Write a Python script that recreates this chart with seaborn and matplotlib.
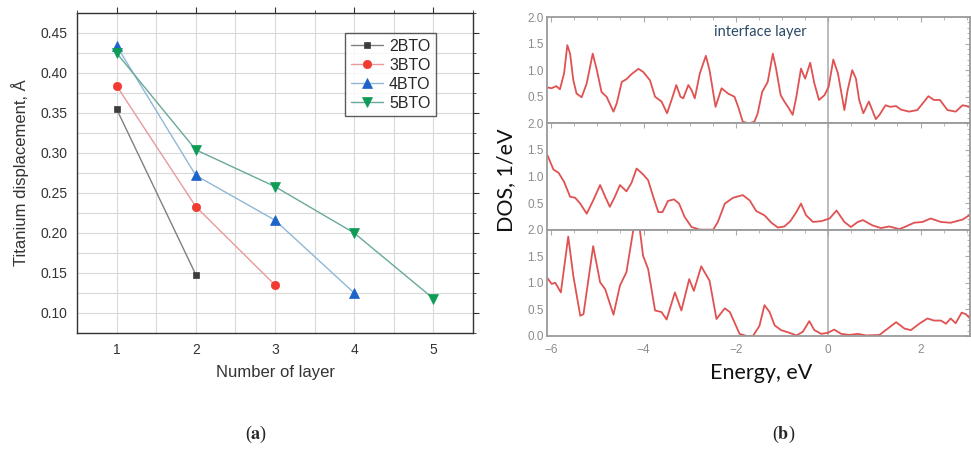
import matplotlib
matplotlib.use("Agg")
import matplotlib.pyplot as plt
from matplotlib.ticker import MultipleLocator, FixedLocator, FormatStrFormatter
import pandas as pd
import seaborn as sns

# ---------------- Panel (a) data ----------------
layers = [1, 2, 3, 4, 5]
series_names = ["2BTO", "3BTO", "4BTO", "5BTO"]
disp_2bto = [0.355, 0.148]
disp_3bto = [0.384, 0.233, 0.135]
disp_4bto = [0.434, 0.272, 0.216, 0.125]
disp_5bto = [0.425, 0.304, 0.258, 0.200, 0.118]
yticks_a = [0.10, 0.15, 0.20, 0.25, 0.30, 0.35, 0.40, 0.45]

# ---------------- Panel (b) data ----------------
energy_top = [-6.08, -5.99, -5.89, -5.81, -5.72, -5.65, -5.59, -5.52, -5.45, -5.34,
              -5.23, -5.10, -5.01, -4.91, -4.80, -4.65, -4.58, -4.47, -4.37, -4.26,
              -4.11, -4.01, -3.86, -3.75, -3.61, -3.49, -3.37, -3.29, -3.20, -3.14,
              -3.03, -2.96, -2.89, -2.78, -2.65, -2.57, -2.44, -2.31, -2.17, -2.03,
              -1.95, -1.85, -1.72, -1.60, -1.53, -1.43, -1.31, -1.20, -1.13, -1.03,
              -0.95, -0.85, -0.77, -0.69, -0.59, -0.50, -0.39, -0.30, -0.20, -0.08,
              0.01, 0.11, 0.21, 0.35, 0.42, 0.52, 0.60, 0.67, 0.76, 0.88,
              1.03, 1.11, 1.24, 1.34, 1.47, 1.57, 1.75, 1.93, 2.17, 2.29,
              2.42, 2.58, 2.76, 2.91, 3.07]
dos_top = [0.675, 0.66, 0.70, 0.64, 0.94, 1.47, 1.31, 0.81, 0.56, 0.49,
           0.75, 1.31, 1.00, 0.59, 0.50, 0.22, 0.375, 0.78, 0.83, 0.925,
           1.025, 0.97, 0.81, 0.50, 0.41, 0.19, 0.50, 0.72, 0.50, 0.47,
           0.72, 0.625, 0.47, 0.94, 1.27, 1.00, 0.31, 0.66, 0.56, 0.50,
           0.31, 0.03, 0.00, 0.03, 0.18, 0.59, 0.78, 1.31, 1.03, 0.53,
           0.41, 0.28, 0.16, 0.50, 1.03, 0.84, 1.14, 0.75, 0.44, 0.53,
           0.69, 1.20, 0.94, 0.25, 0.625, 1.00, 0.84, 0.44, 0.19, 0.41,
           0.08, 0.16, 0.34, 0.31, 0.325, 0.26, 0.22, 0.25, 0.51, 0.44,
           0.44, 0.25, 0.22, 0.34, 0.31]

energy_mid = [-6.08, -5.95, -5.84, -5.72, -5.59, -5.48, -5.37, -5.23, -5.09, -4.94,
              -4.83, -4.73, -4.62, -4.51, -4.37, -4.26, -4.15, -4.01, -3.90, -3.79,
              -3.68, -3.59, -3.47, -3.34, -3.23, -3.11, -2.96, -2.78, -2.49, -2.39,
              -2.24, -2.06, -1.85, -1.70, -1.56, -1.38, -1.23, -1.09, -0.95, -0.82,
              -0.69, -0.59, -0.48, -0.33, -0.15, 0.03, 0.18, 0.35, 0.49, 0.64,
              0.75, 0.96, 1.14, 1.32, 1.54, 1.68, 1.86, 2.04, 2.22, 2.44,
              2.65, 2.91, 3.07]
dos_mid = [1.40, 1.13, 1.07, 0.90, 0.62, 0.60, 0.49, 0.30, 0.55, 0.84,
           0.62, 0.43, 0.62, 0.84, 0.72, 0.88, 1.15, 1.04, 0.93, 0.62,
           0.33, 0.33, 0.54, 0.57, 0.49, 0.24, 0.05, 0.00, 0.00, 0.145,
           0.49, 0.60, 0.65, 0.55, 0.35, 0.27, 0.13, 0.04, 0.06, 0.16,
           0.33, 0.49, 0.27, 0.145, 0.16, 0.21, 0.36, 0.145, 0.05, 0.145,
           0.18, 0.08, 0.03, 0.06, 0.01, 0.06, 0.13, 0.145, 0.21, 0.145,
           0.13, 0.19, 0.28]

energy_bot = [-6.09, -5.99, -5.91, -5.79, -5.63, -5.52, -5.37, -5.30, -5.09, -4.94,
              -4.83, -4.65, -4.51, -4.37, -4.22, -4.15, -4.08, -4.01, -3.90, -3.75,
              -3.61, -3.50, -3.32, -3.18, -3.01, -2.91, -2.75, -2.57, -2.42, -2.24,
              -2.13, -1.92, -1.77, -1.63, -1.49, -1.38, -1.27, -1.16, -1.02, -0.84,
              -0.69, -0.55, -0.41, -0.30, -0.15, -0.01, 0.13, 0.28, 0.46, 0.64,
              0.82, 1.11, 1.29, 1.47, 1.65, 1.79, 1.97, 2.15, 2.29, 2.44,
              2.55, 2.65, 2.76, 2.89, 2.98, 3.07]
dos_bot = [1.10, 0.98, 1.00, 0.82, 1.87, 1.13, 0.38, 0.41, 1.69, 1.01,
           0.88, 0.40, 0.95, 1.20, 2.00, 2.30, 2.00, 1.51, 1.26, 0.48,
           0.45, 0.31, 0.82, 0.48, 1.07, 0.85, 1.31, 1.04, 0.32, 0.52,
           0.45, 0.04, 0.00, 0.00, 0.19, 0.58, 0.45, 0.20, 0.11, 0.06,
           0.01, 0.08, 0.28, 0.11, 0.04, 0.06, 0.12, 0.04, 0.02, 0.04,
           0.01, 0.02, 0.14, 0.26, 0.14, 0.11, 0.23, 0.33, 0.29, 0.29,
           0.23, 0.33, 0.24, 0.44, 0.41, 0.33]
dos_yticks = [0.0, 0.5, 1.0, 1.5, 2.0]
energy_xticks = [-6, -4, -2, 0, 2]

assert len(energy_top) == len(dos_top)
assert len(energy_mid) == len(dos_mid)
assert len(energy_bot) == len(dos_bot)

# ---------------- style ----------------
sns.set_style("white")
plt.rcParams["font.family"] = ["Liberation Sans", "DejaVu Sans"]
plt.rcParams["mathtext.fontset"] = "stix"

W, H = 971, 450
fig = plt.figure(figsize=(W / 100, H / 100), dpi=100)


def rect(x0, y0, x1, y1):
    return [x0 / W, 1 - y1 / H, (x1 - x0) / W, (y1 - y0) / H]


# ---------------- Panel (a) ----------------
rows = []
for name, vals in zip(series_names, [disp_2bto, disp_3bto, disp_4bto, disp_5bto]):
    for l, v in zip(layers, vals):
        rows.append({"series": name, "layer": l, "disp": v})
df_a = pd.DataFrame(rows)

ax = fig.add_axes(rect(77, 13, 473, 333))
line_colors = {"2BTO": "#808080", "3BTO": "#e99a9a", "4BTO": "#8fb8d6", "5BTO": "#69a89c"}
marker_colors = {"2BTO": "#3c3c3c", "3BTO": "#f03a32", "4BTO": "#1d63c9", "5BTO": "#0d9c55"}
markers = {"2BTO": "s", "3BTO": "o", "4BTO": "^", "5BTO": "v"}
msizes = {"2BTO": 5.0, "3BTO": 6.0, "4BTO": 6.5, "5BTO": 6.5}
for name in series_names:
    sub = df_a[df_a["series"] == name]
    sns.lineplot(data=sub, x="layer", y="disp", ax=ax, estimator=None,
                 color=line_colors[name], lw=1.0, marker=markers[name],
                 markersize=msizes[name], markerfacecolor=marker_colors[name],
                 markeredgecolor=marker_colors[name], markeredgewidth=0.5,
                 label=name, zorder=3)

ax.set_xlim(0.5, 5.5)
ax.set_ylim(0.075, 0.475)
ax.xaxis.set_major_locator(FixedLocator(layers))
ax.xaxis.set_minor_locator(MultipleLocator(0.5))
ax.yaxis.set_major_locator(FixedLocator(yticks_a))
ax.yaxis.set_minor_locator(MultipleLocator(0.025))
ax.yaxis.set_major_formatter(FormatStrFormatter("%.2f"))
ax.grid(True, which="both", color="#d9d9d9", lw=0.8)
ax.set_axisbelow(True)
for s in ax.spines.values():
    s.set_color("#333333")
    s.set_linewidth(1.0)
ax.tick_params(which="both", direction="out", top=True, right=True,
               colors="#333333", labelsize=10, labelcolor="#333333")
ax.tick_params(which="major", length=4, pad=3)
ax.tick_params(which="minor", length=2.5)
ax.set_xlabel("Number of layer", fontsize=12, color="#333333", labelpad=6)
ax.set_ylabel("Titanium displacement, Å", fontsize=12, color="#333333", labelpad=8)
leg = ax.legend(loc="upper left", bbox_to_anchor=(0.677, 0.9375), frameon=True,
                fancybox=False, edgecolor="#333333", fontsize=11.5,
                handlelength=2.0, labelspacing=0.25, borderpad=0.35,
                handletextpad=0.4, borderaxespad=0.0)
leg.get_frame().set_linewidth(1.0)

# ---------------- Panel (b) ----------------
curves = [(energy_top, dos_top), (energy_mid, dos_mid), (energy_bot, dos_bot)]
ptop, ph = 17, 106.33
for i, (en, ds) in enumerate(curves):
    y0 = ptop + i * ph
    axb = fig.add_axes(rect(547, y0, 970, y0 + ph))
    axb.set_facecolor("white")
    sns.lineplot(x=en, y=ds, ax=axb, estimator=None, sort=False,
                 color="#e05252", lw=1.3)
    axb.axvline(0.0, color="#a8a8a8", lw=1.1, zorder=1)
    axb.set_xlim(-6.09, 3.07)
    axb.set_ylim(0, 2.0)
    axb.xaxis.set_major_locator(FixedLocator(energy_xticks))
    axb.xaxis.set_minor_locator(MultipleLocator(0.5))
    axb.yaxis.set_major_locator(FixedLocator(dos_yticks))
    axb.yaxis.set_minor_locator(MultipleLocator(0.1))
    if i < 2:
        axb.set_yticklabels(["", "0.5", "1.0", "1.5", "2.0"])
        axb.set_xticklabels([])
    else:
        axb.set_yticklabels(["0.0", "0.5", "1.0", "1.5", "2.0"])
        axb.set_xticklabels(["\u22126", "\u22124", "\u22122", "0", "2"])
    for s in axb.spines.values():
        s.set_color("#9a9a9a")
        s.set_linewidth(1.3)
    axb.tick_params(which="both", direction="in", top=True, right=True,
                    colors="#aaaaaa", labelcolor="#8c8c8c", labelsize=8.5)
    axb.tick_params(which="major", length=3.5, pad=2.5)
    axb.tick_params(which="minor", length=2)
    axb.tick_params(axis="x", which="major", pad=6)
    axb.set_xlabel("")
    axb.set_ylabel("")

fig.text(760 / W, 1 - 32 / H, "interface layer", ha="center", va="center",
         fontsize=10.5, color="#2b4a66", family=["Lato", "DejaVu Sans"])
fig.text(506 / W, 1 - 180 / H, "DOS, 1/eV", rotation=90, ha="center", va="center",
         fontsize=15.5, color="#111111", family=["Lato", "DejaVu Sans"])
fig.text(761 / W, 1 - 373 / H, "Energy, eV", ha="center", va="center",
         fontsize=15.5, color="#111111", family=["Lato", "DejaVu Sans"])

# captions
fig.text(256 / W, 1 - 434 / H, r"($\mathbf{a}$)", ha="center", va="center",
         fontsize=13, family=["Liberation Serif", "DejaVu Serif"])
fig.text(784 / W, 1 - 434 / H, r"($\mathbf{b}$)", ha="center", va="center",
         fontsize=13, family=["Liberation Serif", "DejaVu Serif"])

fig.savefig("out.png", dpi=100)
